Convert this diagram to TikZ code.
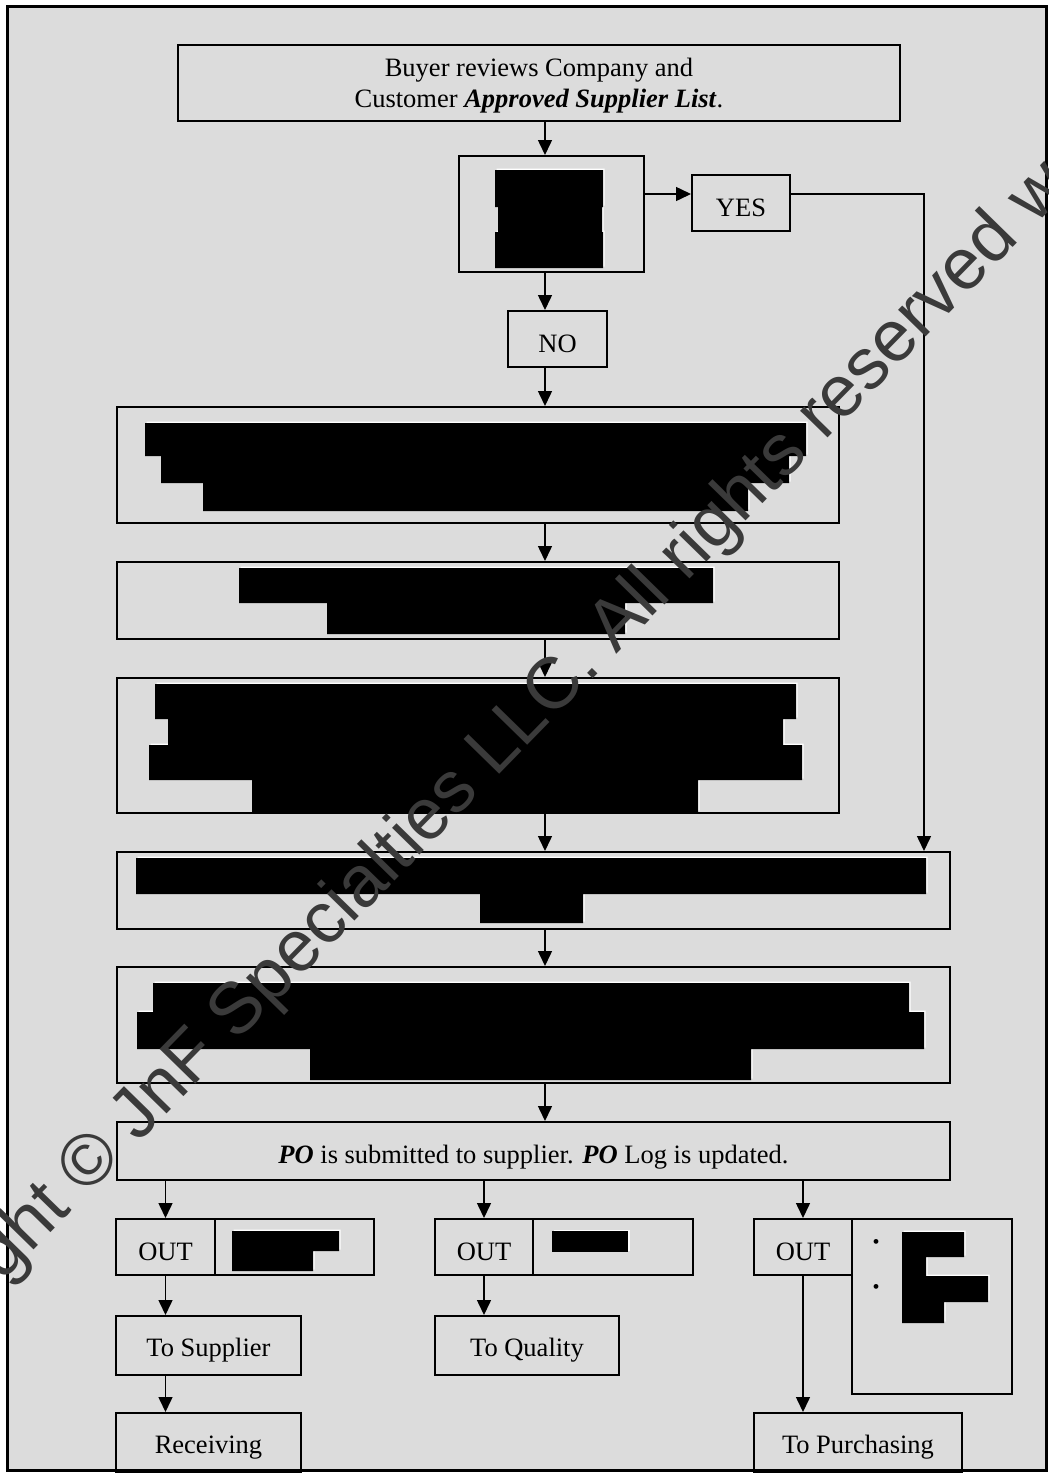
\documentclass[tikz,border=0pt]{standalone}
\usepackage{fontspec}
\setmainfont{Liberation Serif}
\newfontfamily\wmfont{Liberation Sans}
\usetikzlibrary{arrows.meta}
\definecolor{bg}{HTML}{DCDCDC}
\definecolor{wm}{HTML}{3A3A3A}
\newcommand\redactblk[1]{\fill[white,shift={(1.5,-1.5)}] #1; \fill[black] #1;}
\newcommand\lowr[2][5pt]{\raisebox{-#1}[\height][\depth]{#2}}
\begin{document}
\begin{tikzpicture}[x=1pt,y=-1pt,
  box/.style={draw=black, line width=2pt, inner sep=0pt, align=center, font=\fontsize{26.5}{31}\selectfont},
  conn/.style={line width=1.5pt, -{Triangle[length=15pt,width=14pt]}},
  wmtext/.style={text=wm, inner sep=0pt, font=\wmfont\fontsize{72.4}{80}\selectfont}]
\useasboundingbox (0,0) rectangle (1049,1473);
\fill[white] (0,0) rectangle (1049,1473);
\fill[bg] (7,6) rectangle (1046,1470);

\coordinate (spine) at (545,0);
\coordinate (yy) at (0,194);
\coordinate (yesx) at (924,0);

% main column
\node[box, minimum width=722, minimum height=76] (b1) at (539,83) {\lowr[3pt]{Buyer reviews Company and}\\\lowr[3pt]{Customer \textbf{\textit{Approved Supplier List}}.}};
\node[box, minimum width=185, minimum height=116] (b2) at (551.5,214) {};
\node[box, minimum width=98, minimum height=56] (yes) at (741,203) {\lowr{YES}};
\node[box, minimum width=99, minimum height=56] (no) at (557.5,339) {\lowr{NO}};
\node[box, minimum width=722, minimum height=116] (b3) at (478,465) {};
\node[box, minimum width=722, minimum height=77] (b4) at (478,600.5) {};
\node[box, minimum width=722, minimum height=135] (b5) at (478,745.5) {};
\node[box, minimum width=833, minimum height=77] (b6) at (533.5,890.5) {};
\node[box, minimum width=833, minimum height=116] (b7) at (533.5,1025) {};
\node[box, minimum width=833, minimum height=58] (b8) at (533.5,1151) {\lowr[6pt]{\textbf{\textit{PO}} is submitted to supplier. \textbf{\textit{PO}} Log is updated.}};

% outputs
\node[box, minimum width=99, minimum height=56] (o1) at (165.5,1247) {\lowr{OUT}};
\node[box, minimum width=159, minimum height=56] (o1r) at (294.5,1247) {};
\node[box, minimum width=98, minimum height=56] (o2) at (484,1247) {\lowr{OUT}};
\node[box, minimum width=160, minimum height=56] (o2r) at (613,1247) {};
\node[box, minimum width=98, minimum height=56] (o3) at (803,1247) {\lowr{OUT}};
\node[box, minimum width=160, minimum height=175] (o3r) at (932,1306.5) {};
\node[box, minimum width=185, minimum height=59] (sup) at (208.5,1345.5) {\lowr{To Supplier}};
\node[box, minimum width=184, minimum height=59] (qual) at (527,1345.5) {\lowr{To Quality}};
\node[box, minimum width=185, minimum height=59] (rec) at (208.5,1442.5) {\lowr{Receiving}};
\node[box, minimum width=208, minimum height=59] (pur) at (858,1442.5) {\lowr{To Purchasing}};
\node[inner sep=0pt, font=\fontsize{20}{20}\selectfont] (bul1) at (876,1244) {\textbullet};
\node[inner sep=0pt, font=\fontsize{20}{20}\selectfont] (bul2) at (876,1289) {\textbullet};

% connectors
\draw[conn] (b1.south -| spine) -- (b2.north -| spine);
\draw[conn] (b2.south -| spine) -- (no.north -| spine);
\draw[conn] (no.south -| spine) -- (b3.north -| spine);
\draw[conn] (b3.south -| spine) -- (b4.north -| spine);
\draw[conn] (b4.south -| spine) -- (b5.north -| spine);
\draw[conn] (b5.south -| spine) -- (b6.north -| spine);
\draw[conn] (b6.south -| spine) -- (b7.north -| spine);
\draw[conn] (b7.south -| spine) -- (b8.north -| spine);
\draw[conn] (b2.east |- yy) -- (yes.west |- yy);
\draw[conn] (yes.east |- yy) -- (yesx |- yy) -- (b6.north -| yesx);
\draw[conn] (b8.south -| o1.north) -- (o1.north);
\draw[conn] (b8.south -| o2.north) -- (o2.north);
\draw[conn] (b8.south -| o3.north) -- (o3.north);
\draw[conn] (o1.south) -- (sup.north -| o1.south);
\draw[conn] (sup.south -| o1.south) -- (rec.north -| o1.south);
\draw[conn] (o2.south) -- (qual.north -| o2.south);
\draw[conn] (o3.south) -- (pur.north -| o3.south);

% redactions
\redactblk{(495,170) rectangle (603,207) (498,207) rectangle (602,232) (495,232) rectangle (603,268)}
\redactblk{(145,423) rectangle (806,456) (161,456) rectangle (789,483) (203,483) rectangle (748,511)}
\redactblk{(239,568) rectangle (713,603) (327,603) rectangle (625,634)}
\redactblk{(155,684) rectangle (796,719) (168,719) rectangle (783,745) (149,745) rectangle (802,780) (252,780) rectangle (698,812)}
\redactblk{(136,858) rectangle (926,894) (480,894) rectangle (583,923)}
\redactblk{(153,983) rectangle (909,1012) (137,1012) rectangle (924,1049) (310,1049) rectangle (751,1080)}
\redactblk{(232,1231) rectangle (339,1251) (232,1251) rectangle (313,1271)}
\redactblk{(552,1231) rectangle (628,1252)}
\redactblk{(902,1232) rectangle (964,1257) (902,1257) rectangle (926,1276) (902,1276) rectangle (988,1302) (902,1302) rectangle (944,1323)}

% outer frame
\draw[line width=3pt] (7,6) rectangle (1046,1470);

% watermark
\begin{scope}
\clip (0,0) rectangle (1049,1473);
\node[wmtext, anchor=base west, rotate=45.65] (wm) at (-144,1432) {Copyright © JnF Specialties LLC. All rights reserved w};
\end{scope}
\end{tikzpicture}
\end{document}
